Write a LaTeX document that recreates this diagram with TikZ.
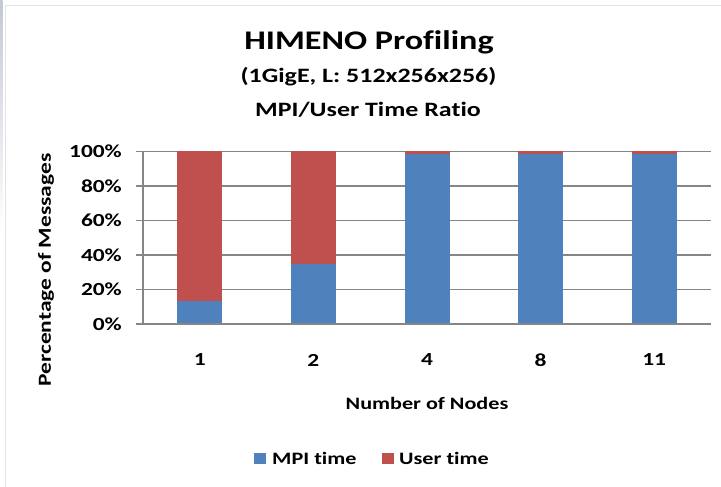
\documentclass[tikz,border=0pt]{standalone}
\usepackage{fontspec}
\setmainfont[Ligatures=NoCommon]{Carlito}
\definecolor{mpiblue}{HTML}{4F81BD}
\definecolor{userred}{HTML}{C0504D}
\definecolor{gridgray}{HTML}{868686}
\definecolor{framegray}{HTML}{E3E3E3}
\definecolor{stripgray}{HTML}{C3C8D6}
\newcommand{\widetext}[1]{\scalebox{1.27}[1]{#1}}
\tikzset{
  gridline/.style={draw=gridgray, line width=1.3bp},
  bluebar/.style={fill=mpiblue},
  redbar/.style={fill=userred},
  ticklab/.style={font=\fontsize{18.5}{21}\selectfont\bfseries, inner sep=0pt},
  catlab/.style={font=\fontsize{18.5}{21}\selectfont\bfseries, inner sep=0pt},
  axtitle/.style={font=\fontsize{17.5}{20}\selectfont\bfseries, inner sep=0pt},
  legtext/.style={font=\fontsize{17.5}{20}\selectfont\bfseries, inner sep=0pt, anchor=west},
}
\begin{document}
\begin{tikzpicture}[x=1bp,y=-1bp]
\useasboundingbox (0,0) rectangle (721,487);
\fill[white] (0,0) rectangle (721,487);
\shade[top color=stripgray, bottom color=white] (0,0) rectangle (2.5,235);
\draw[framegray, line width=1.2bp] (5.5,487) -- (5.5,5.5) -- (721,5.5);

% titles
\node[font=\fontsize{27}{30}\selectfont\bfseries, inner sep=0pt] (title) at (369,42) {\widetext{HIMENO Profiling}};
\node[font=\fontsize{20.5}{23}\selectfont\bfseries, inner sep=0pt] (sub1) at (368.5,77) {\widetext{(1GigE, L: 512x256x256)}};
\node[font=\fontsize{20.5}{23}\selectfont\bfseries, inner sep=0pt] (sub2) at (368,110) {\widetext{MPI/User Time Ratio}};

% grid
\foreach \v in {0,...,5} {
  \draw[gridline] (136,{324-34.5*\v}) -- (711,{324-34.5*\v});
}
\node[ticklab, anchor=east] (t0) at (122,324) {\widetext{0\%}};
\node[ticklab, anchor=east] (t20) at (122,289.5) {\widetext{20\%}};
\node[ticklab, anchor=east] (t40) at (122,255) {\widetext{40\%}};
\node[ticklab, anchor=east] (t60) at (122,220.5) {\widetext{60\%}};
\node[ticklab, anchor=east] (t80) at (122,186) {\widetext{80\%}};
\node[ticklab, anchor=east] (t100) at (122,151.5) {\widetext{100\%}};

% bars
\foreach \i/\b in {0/13.5, 1/34.8, 2/98.8, 3/98.8, 4/98.8} {
  \pgfmathsetmacro{\c}{143+113.6*(\i+0.5)}
  \pgfmathsetmacro{\yb}{324-1.725*\b}
  \fill[bluebar] ({\c-22.5},324) rectangle ({\c+22.5},\yb);
  \fill[redbar] ({\c-22.5},\yb) rectangle ({\c+22.5},151.5);
}
\draw[gridline] (143,151.5) -- (143,324);
\draw[gridline] (136,324) -- (711,324);

% category labels
\node[catlab] (c1) at (199.8,360) {\widetext{1}};
\node[catlab] (c2) at (313.4,360) {\widetext{2}};
\node[catlab] (c4) at (427,360) {\widetext{4}};
\node[catlab] (c8) at (540.6,360) {\widetext{8}};
\node[catlab] (c11) at (654.2,360) {\widetext{11}};

\node[axtitle] (xt) at (427,403) {\widetext{Number of Nodes}};
\node[axtitle, font=\fontsize{18.5}{21}\selectfont\bfseries, rotate=90] (yt) at (46,270) {\widetext{Percentage of Messages}};

% legend
\fill[bluebar] (254,453) rectangle (266,464);
\node[legtext] (l1) at (272,458) {\widetext{MPI time}};
\fill[redbar] (382,453) rectangle (394,464);
\node[legtext] (l2) at (399,458) {\widetext{User time}};
\end{tikzpicture}
\end{document}
